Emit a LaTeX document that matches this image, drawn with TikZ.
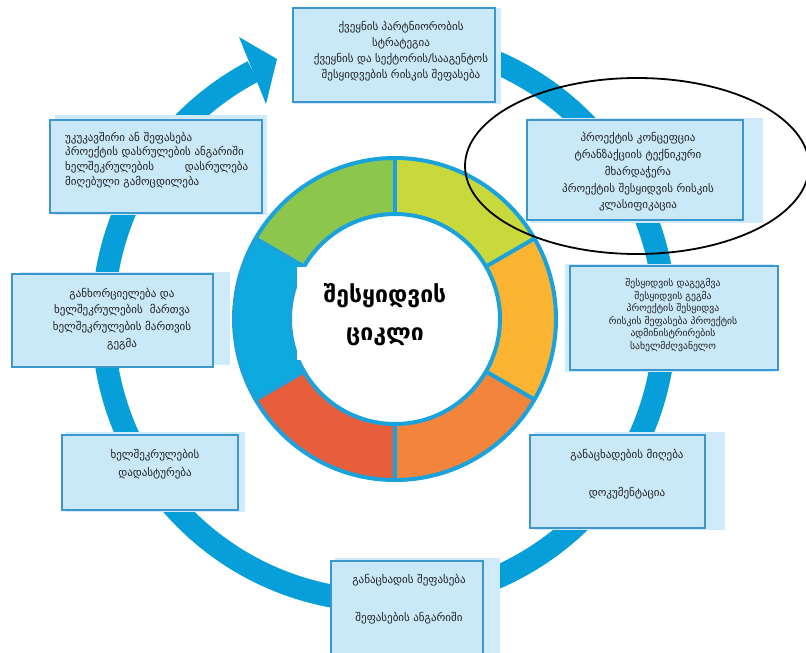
\documentclass[tikz,border=0pt]{standalone}
\usepackage{fontspec}
\setmainfont{DejaVu Sans}
\definecolor{ringblue}{HTML}{069FDA}
\definecolor{donutblue}{HTML}{1AA2DC}
\definecolor{segyg}{HTML}{C9D93B}
\definecolor{segyel}{HTML}{FBB432}
\definecolor{segor}{HTML}{F2843B}
\definecolor{segred}{HTML}{E65E3B}
\definecolor{segblue}{HTML}{0CAADF}
\definecolor{seggreen}{HTML}{8DC64C}
\definecolor{boxfill}{HTML}{C9E8F8}
\definecolor{boxshade}{HTML}{CFEBFA}
\definecolor{boxline}{HTML}{3B97CD}
\definecolor{txtc}{HTML}{222222}
\tikzset{
  infobox/.style={draw=boxline, fill=boxfill, line width=1.2pt, anchor=north west, inner sep=0pt, outer sep=0pt},
  shade/.style={fill=boxshade},
  txt/.style={align=center, inner sep=0pt, text=txtc, font=\fontsize{11}{16}\selectfont},
  smalltxt/.style={align=center, inner sep=0pt, text=txtc, font=\fontsize{9.7}{12.6}\selectfont},
  divider/.style={donutblue, line width=4pt},
}
\begin{document}
\begin{tikzpicture}[x=1pt,y=-1pt]
\useasboundingbox (0,0) rectangle (806,653);
\clip (0,0) rectangle (806,653);
\fill[white] (0,0) rectangle (806,653);

% big circular arrow
\begin{scope}[shift={(384,320)}]
  \draw[ringblue, line width=23pt] (-78:281) arc[start angle=-78, end angle=242.2, radius=281];
\end{scope}
\coordinate (h1) at (239,37);
\coordinate (h2) at (277,59);
\coordinate (h3) at (266,104);
\fill[ringblue] (h1) -- (h2) -- (h3) -- cycle;

% donut
\begin{scope}[shift={(395,319)}]
  \fill[white] (0,0) circle[radius=161];
  \fill[segyg]   (-90:161) arc[start angle=-90, end angle=-30, radius=161] -- (-30:105) arc[start angle=-30, end angle=-90, radius=105] -- cycle;
  \fill[segyel]  (-30:161) arc[start angle=-30, end angle=30, radius=161] -- (30:105) arc[start angle=30, end angle=-30, radius=105] -- cycle;
  \fill[segor]   (30:161) arc[start angle=30, end angle=90, radius=161] -- (90:105) arc[start angle=90, end angle=30, radius=105] -- cycle;
  \fill[segred]  (90:161) arc[start angle=90, end angle=150, radius=161] -- (150:105) arc[start angle=150, end angle=90, radius=105] -- cycle;
  \fill[segblue] (150:161) arc[start angle=150, end angle=210, radius=161] -- (210:105) arc[start angle=210, end angle=150, radius=105] -- cycle;
  \fill[seggreen] (210:161) arc[start angle=210, end angle=270, radius=161] -- (270:105) arc[start angle=270, end angle=210, radius=105] -- cycle;
  \draw[divider] (0,0) circle[radius=161];
  \draw[divider] (0,0) circle[radius=105];
  \foreach \a in {-90,-30,30,90,150,210} { \draw[divider] (\a:105) -- (\a:161); }
\end{scope}
\fill[white] (297,267) rectangle (473,360);
\node[align=center, inner sep=0pt, font=\fontsize{23}{38}\selectfont\bfseries] (center) at (385,315) {შესყიდვის\\ციკლი};

% boxes
\fill[shade] (293,8) rectangle (501,104);
\node[infobox, minimum width=202pt, minimum height=94pt] (b1) at (293,8) {};
\node[txt] (t1) at (401,51) {ქვეყნის პარტნიორობის\\სტრატეგია\\ქვეყნის და სექტორის/სააგენტოს\\შესყიდვების რისკის შეფასება};

\fill[shade] (55,115) rectangle (267,215);
\node[infobox, minimum width=212pt, minimum height=93pt] (b2) at (50,120) {};
\node[txt, align=left, text width=183pt, anchor=west, font=\fontsize{11}{14.7}\selectfont] (t2) at (65,160) {უკუკავშირი ან შეფასება\\პროექტის დასრულების ანგარიში\\ხელშეკრულების\hfill დასრულება\\მიღებული გამოცდილება};

\fill[shade] (530,118) rectangle (763,223);
\node[infobox, minimum width=216pt, minimum height=100pt] (b3) at (527,120) {};
\node[txt, font=\fontsize{11}{16.8}\selectfont] (t3) at (638,172) {პროექტის კონცეფცია\\ტრანზაქციის ტექნიკური\\მხარდაჭერა\\პროექტის შესყიდვის რისკის\\კლასიფიკაცია};

\fill[shade] (565,264) rectangle (775,372);
\node[infobox, minimum width=208pt, minimum height=104pt] (b4) at (570,266) {};
\node[smalltxt] (t4) at (673,315) {შესყიდვის დაგეგმვა\\შესყიდვის გეგმა\\პროექტის შესყიდვა\\რისკის შეფასება პროექტის\\ადმინისტრირების\\სახელმძღვანელო};

\fill[shade] (20,272) rectangle (230,365);
\node[infobox, minimum width=201pt, minimum height=93pt] (b5) at (12,274) {};
\node[txt, font=\fontsize{11}{16.7}\selectfont] (t5) at (122,319) {განხორციელება და\\ხელშეკრულების\ \ მართვა\\ხელშეკრულების მართვის\\გეგმა};

\fill[shade] (65,432) rectangle (245,512);
\node[infobox, minimum width=176pt, minimum height=75pt] (b6) at (62,435) {};
\node[txt, font=\fontsize{11}{18}\selectfont] (t6) at (155,464) {ხელშეკრულების\\დადასტურება};

\fill[shade] (535,432) rectangle (725,530);
\node[infobox, minimum width=175pt, minimum height=93pt] (b7) at (530,435) {};
\node[txt, font=\fontsize{11}{38}\selectfont] (t7) at (627,474) {განაცხადების მიღება\\დოკუმენტაცია};

\fill[shade] (335,558) rectangle (500,660);
\node[infobox, minimum width=152pt, minimum height=100pt] (b8) at (331,561) {};
\node[txt, font=\fontsize{11}{38}\selectfont] (t8) at (409,599) {განაცხადის შეფასება\\შეფასების ანგარიში};

% highlight ellipse
\draw[black, line width=1.8pt] (637,166) ellipse[x radius=172, y radius=88];
\end{tikzpicture}
\end{document}
